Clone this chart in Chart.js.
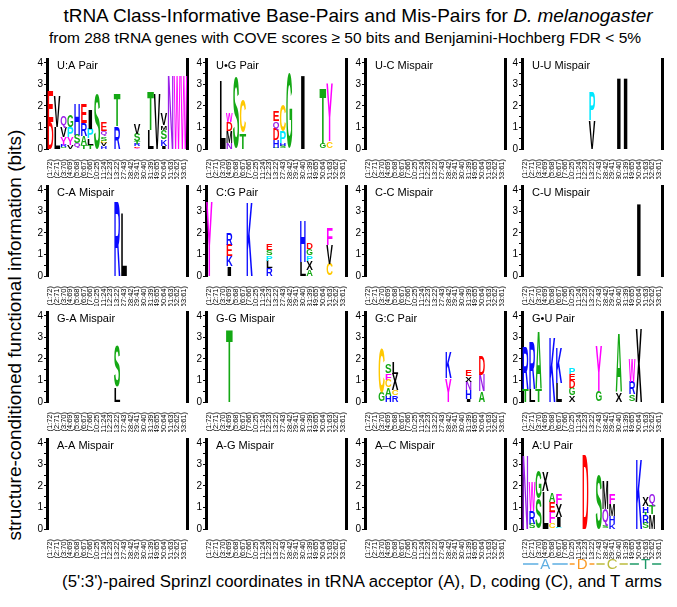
<!DOCTYPE html>
<html>
<head>
<meta charset="utf-8">
<script src="https://cdn.jsdelivr.net/npm/chart.js@4"></script>
<style>
  body { margin: 0; background: #fff; }
  #page { position: relative; width: 677px; height: 607px; overflow: hidden; background: #fff;
          font-family: "Liberation Sans", Arial, Helvetica, sans-serif; color: #000; }
  .txt { position: absolute; white-space: nowrap; }
  #title { left: 358px; top: 6px; font-size: 19px; line-height: 19px; transform: translateX(-50%); }
  #subtitle { left: 345px; top: 30px; font-size: 15.5px; line-height: 15.5px; transform: translateX(-50%); }
  #ytitle { left: 14px; top: 335px; font-size: 19px; line-height: 19px; transform: translate(-50%, -50%) rotate(-90deg); }
  #xtitle { left: 362px; top: 574px; font-size: 16.8px; line-height: 16.8px; transform: translateX(-50%); }
  canvas { position: absolute; }
</style>
</head>
<body>
<div id="page">
  <div class="txt" id="title">tRNA Class-Informative Base-Pairs and Mis-Pairs for <i>D. melanogaster</i></div>
  <div class="txt" id="subtitle">from 288 tRNA genes with COVE scores ≥ 50 bits and Benjamini-Hochberg FDR &lt; 5%</div>
  <div class="txt" id="ytitle">structure-conditioned functional information (bits)</div>
  <div class="txt" id="xtitle">(5':3')-paired Sprinzl coordinates in tRNA acceptor (A), D, coding (C), and T arms</div>
</div>
<script>
// paired Sprinzl positions (x categories)
const positions = ["(1:72)", "(2:71)", "(3:70)", "(4:69)", "(5:68)", "(6:67)", "(7:66)",
  "(10:25)", "(11:24)", "(12:23)", "(13:22)", "(27:43)", "(28:42)", "(29:41)", "(30:40)", "(31:39)",
  "(49:65)", "(50:64)", "(51:63)", "(52:62)", "(53:61)"];

const panelTitles = ["U:A Pair", "U•G Pair", "U-C Mispair", "U-U Mispair",
  "C-A Mispair", "C:G Pair", "C-C Mispair", "C-U Mispair",
  "G-A Mispair", "G-G Mispair", "G:C Pair", "G•U Pair",
  "A-A Mispair", "A-G Mispair", "A–C Mispair", "A:U Pair"];

const yTicks = [0, 0.5, 1, 1.5, 2, 2.5, 3, 3.5, 4];

// each position: letters stacked bottom -> top, [letter, bits]
const logoUA = [
  [["D", 1.25], ["E", 1.45]],
  [["L", 1.0], ["V", 1.4]],
  [["S", 0.08], ["R", 0.12], ["Y", 0.35], ["V", 0.45], ["Q", 0.55]],
  [["V", 0.2], ["Y", 0.35], ["P", 0.45], ["G", 0.55]],
  [["Q", 0.25], ["S", 0.4], ["H", 1.45]],
  [["T", 0.2], ["A", 0.4], ["R", 0.6], ["E", 0.9]],
  [["T", 0.2], ["L", 0.3], ["P", 0.45], ["I", 0.9]],
  [["S", 2.6]],
  [["H", 0.12], ["V", 0.15], ["C", 0.12], ["S", 0.2], ["Q", 0.25], ["E", 0.4]],
  [],
  [["R", 1.05], ["T", 1.5]],
  [], [],
  [["Y", 0.05], ["E", 0.07], ["R", 0.13], ["T", 0.1], ["S", 0.35], ["V", 0.45]],
  [],
  [["L", 0.9], ["T", 1.8]],
  [["V", 2.6]],
  [["I", 0.15], ["K", 0.3], ["S", 0.45], ["M", 0.2], ["V", 0.5]],
  [["N", 3.45]],
  [["W", 3.4]],
  [["W", 3.4]]
];
const logoUG = [
  [], [],
  [["L", 3.15]],
  [["N", 0.3], ["M", 0.55], ["D", 0.4], ["W", 0.42]],
  [["S", 3.35]],
  [["T", 0.75], ["C", 1.55]],
  [], [], [], [],
  [["S", 0.05], ["H", 0.35], ["D", 0.5], ["Q", 0.4], ["E", 0.45]],
  [["S", 0.15], ["H", 0.12], ["P", 0.55], ["C", 1.2]],
  [["G", 3.5]],
  [],
  [["I", 3.45]],
  [], [],
  [["G", 0.25], ["T", 2.6]],
  [["C", 0.35], ["Y", 2.65]],
  [], []
];
const logoUC = [];
const logoUU = [
  [], [], [], [], [], [], [], [], [], [],
  [["V", 1.35], ["P", 1.3]],
  [], [], [],
  [["I", 3.33]],
  [["I", 3.33]]
];
const logoCA = [
  [], [], [], [], [], [], [], [], [], [],
  [["R", 3.45]],
  [["L", 2.95]]
];
const logoCG = [
  [["Y", 3.45]],
  [], [],
  [["I", 0.45], ["K", 0.5], ["E", 0.5], ["R", 0.5]],
  [], [],
  [["K", 3.45]],
  [], [],
  [["R", 0.35], ["L", 0.35], ["P", 0.25], ["S", 0.25], ["E", 0.3]],
  [], [], [], [],
  [["L", 0.65], ["H", 1.95]],
  [["A", 0.3], ["X", 0.4], ["P", 0.25], ["G", 0.3], ["D", 0.32]],
  [], [],
  [["C", 0.55], ["V", 0.9], ["F", 0.8]]
];
const logoCC = [];
const logoCU = [
  [], [], [], [], [], [], [], [], [], [], [], [], [], [], [], [], [],
  [["I", 3.4]]
];
const logoGA = [
  [], [], [], [], [], [], [], [], [], [],
  [["L", 0.7], ["S", 1.9]]
];
const logoGG = [
  [], [], [],
  [["T", 3.4]]
];
const logoGC = [
  [], [],
  [["G", 0.45], ["C", 2.05]],
  [["H", 0.3], ["A", 0.37], ["C", 0.37], ["F", 0.3], ["S", 0.42]],
  [["R", 0.3], ["C", 0.25], ["X", 0.75], ["L", 0.55]],
  [], [], [], [], [], [], [],
  [["Y", 1.1], ["K", 1.2]],
  [], [],
  [["I", 0.15], ["H", 0.4], ["N", 0.4], ["X", 0.25], ["E", 0.3]],
  [],
  [["A", 0.5], ["N", 0.75], ["D", 0.9]]
];
const logoGU = [
  [["T", 0.6], ["R", 1.95]],
  [["L", 0.6], ["R", 2.2]],
  [["T", 0.65], ["A", 2.65]],
  [],
  [["K", 3.05]],
  [["L", 0.9], ["K", 1.65]],
  [],
  [["X", 0.3], ["G", 0.35], ["D", 0.35], ["E", 0.3], ["P", 0.32]],
  [], [], [],
  [["G", 0.5], ["Y", 2.1]],
  [], [],
  [["X", 0.45], ["A", 2.7]],
  [],
  [["S", 0.35], ["R", 0.6], ["W", 1.05]],
  [["X", 3.45]]
];
const logoAA = [];
const logoAG = [];
const logoAC = [];
const logoAU = [
  [["N", 3.45]],
  [["S", 0.25], ["R", 0.6], ["W", 1.35]],
  [["S", 1.4], ["G", 1.3]],
  [["L", 1.75], ["X", 0.9]],
  [["C", 0.25], ["F", 0.55], ["E", 0.45], ["A", 0.4]],
  [["P", 0.1], ["I", 0.45], ["X", 0.6], ["F", 0.5]],
  [], [], [],
  [["D", 3.45]],
  [],
  [["S", 2.55]],
  [["S", 0.15], ["Q", 0.8], ["M", 1.35]],
  [["K", 0.25], ["H", 0.35], ["M", 0.55], ["F", 0.5]],
  [], [], [],
  [["K", 3.3]],
  [["S", 0.3], ["R", 0.35], ["T", 0.1], ["H", 0.3], ["X", 0.4]],
  [["M", 0.7], ["T", 0.4], ["Q", 0.55]]
];

const logos = [logoUA, logoUG, logoUC, logoUU, logoCA, logoCG, logoCC, logoCU,
  logoGA, logoGG, logoGC, logoGU, logoAA, logoAG, logoAC, logoAU];

// tRNA arms under the last panel
const armNames = ["A", "D", "C", "T"];
const armFirst = [0, 7, 11, 16];
const armLast = [6, 10, 15, 20];
const armColors = ["#5eaee2", "#fb9a26", "#bcbc3e", "#1f9a68"];

const aaColors = {
  A: "#14a814", G: "#14a814", S: "#14a814", T: "#14a814",
  C: "#ffc800",
  D: "#ff0000", E: "#ff0000",
  F: "#ff00ff", W: "#ff00ff", Y: "#ff00ff",
  H: "#0a0aff", K: "#0a0aff", R: "#0a0aff",
  N: "#9a20e8", Q: "#9a20e8",
  P: "#00e8ff",
  I: "#000", L: "#000", M: "#000", V: "#000", X: "#000"
};

const FONT = '"Liberation Sans", Arial, Helvetica, sans-serif';
const GLYPH_FONT = 'bold 100px ' + FONT;
const colSpine = [47, 206, 365, 522];
const rowZero = [149, 276, 402, 529];

const glyphCache = {};
function glyphBox(ctx, ch) {
  if (!glyphCache[ch]) {
    ctx.save();
    ctx.font = GLYPH_FONT;
    const m = ctx.measureText(ch);
    glyphCache[ch] = { w: m.width, a: m.actualBoundingBoxAscent, d: m.actualBoundingBoxDescent };
    ctx.restore();
  }
  return glyphCache[ch];
}

// stretch one letter (advance width x ink height) to fill a bar rectangle
function drawLetter(ctx, ch, x, y, w, h) {
  const g = glyphBox(ctx, ch);
  ctx.save();
  ctx.translate(x, y);
  ctx.scale(w / g.w, h / (g.a + g.d));
  ctx.font = GLYPH_FONT;
  ctx.textAlign = "left";
  ctx.textBaseline = "alphabetic";
  ctx.fillStyle = aaColors[ch] || "#000";
  ctx.fillText(ch, 0, g.a);
  ctx.restore();
}

const letterPlugin = {
  id: "letters",
  afterDatasetsDraw(chart) {
    const ctx = chart.ctx;
    chart.data.datasets.forEach((ds, di) => {
      chart.getDatasetMeta(di).data.forEach((bar, i) => {
        const ch = ds.letters[i];
        if (!ch) return;
        const p = bar.getProps(["x", "y", "base", "width"], true);
        const h = Math.abs(p.base - p.y);
        if (h < 0.3) return;
        drawLetter(ctx, ch, p.x - p.width / 2, Math.min(p.y, p.base), p.width, h);
      });
    });
  }
};

const titlePlugin = {
  id: "panelTitle",
  afterDraw(chart, args, opts) {
    const ctx = chart.ctx;
    ctx.save();
    ctx.font = "11px " + FONT;
    ctx.fillStyle = "#000";
    ctx.textBaseline = "alphabetic";
    ctx.fillText(opts.text, chart.chartArea.left + 10, chart.chartArea.top + 9.5);
    ctx.restore();
  }
};

const armPlugin = {
  id: "arms",
  afterDraw(chart, args, opts) {
    if (!opts.show) return;
    const ctx = chart.ctx;
    const xs = chart.scales.x;
    const step = xs.getPixelForValue(1) - xs.getPixelForValue(0);
    const y = chart.chartArea.bottom + 35;
    ctx.save();
    ctx.font = "15px " + FONT;
    ctx.textAlign = "center";
    ctx.textBaseline = "middle";
    ctx.lineWidth = 1.5;
    armNames.forEach((name, k) => {
      const x0 = xs.getPixelForValue(armFirst[k]) - step / 2 + 1;
      const x1 = xs.getPixelForValue(armLast[k]) + step / 2 - 1;
      const xm = (x0 + x1) / 2;
      const hw = ctx.measureText(name).width / 2 + 2;
      ctx.strokeStyle = armColors[k];
      ctx.fillStyle = armColors[k];
      ctx.beginPath();
      ctx.moveTo(x0, y); ctx.lineTo(xm - hw, y);
      ctx.moveTo(xm + hw, y); ctx.lineTo(x1, y);
      ctx.stroke();
      ctx.fillText(name, xm, y + 1);
    });
    ctx.restore();
  }
};

function buildDatasets(logo) {
  const layers = Math.max(0, ...logo.map(s => s.length));
  const out = [];
  for (let k = 0; k < layers; k++) {
    out.push({
      data: positions.map((_, i) => (logo[i] && logo[i][k]) ? logo[i][k][1] : 0),
      letters: positions.map((_, i) => (logo[i] && logo[i][k]) ? logo[i][k][0] : null),
      backgroundColor: "rgba(0,0,0,0)",
      borderWidth: 0,
      categoryPercentage: 1,
      barPercentage: 1
    });
  }
  return out;
}

const page = document.getElementById("page");

logos.forEach((logo, idx) => {
  const row = Math.floor(idx / 4), col = idx % 4;
  const canvas = document.createElement("canvas");
  canvas.width = 168;
  canvas.height = 147;
  canvas.style.left = (colSpine[col] - 20) + "px";
  canvas.style.top = (rowZero[row] - 97) + "px";
  page.appendChild(canvas);

  new Chart(canvas, {
    type: "bar",
    data: { labels: positions, datasets: buildDatasets(logo) },
    options: {
      responsive: false,
      animation: false,
      events: [],
      layout: { padding: { top: 4, right: 3, bottom: 20, left: 0 } },
      plugins: {
        legend: { display: false },
        tooltip: { enabled: false },
        panelTitle: { text: panelTitles[idx] },
        arms: { show: idx === 15 }
      },
      scales: {
        x: {
          stacked: true,
          grid: { display: false },
          border: { display: false },
          ticks: { autoSkip: false, minRotation: 90, maxRotation: 90, padding: 2,
                   color: "#000", font: { size: 7.5, family: FONT } },
          afterFit: s => { s.height = 30; }
        },
        y: {
          stacked: true,
          position: "left",
          min: 0,
          max: 4.18,
          afterBuildTicks: s => { s.ticks = yTicks.map(v => ({ value: v })); },
          ticks: { autoSkip: false, padding: 1, color: "#000",
                   font: { size: 10, family: FONT },
                   callback: v => Number.isInteger(v) ? String(v) : "" },
          grid: { drawOnChartArea: false, drawTicks: true, tickLength: 3, color: "#000", lineWidth: 1 },
          border: { display: true, color: "#000", width: 3 },
          afterFit: s => { s.width = 20; }
        },
        y2: {
          type: "linear",
          position: "right",
          min: 0,
          max: 4.18,
          ticks: { display: false },
          grid: { drawOnChartArea: false, drawTicks: false },
          border: { display: true, color: "#000", width: 3 },
          afterFit: s => { s.width = 3; }
        }
      }
    },
    plugins: [letterPlugin, titlePlugin, armPlugin]
  });
});
</script>
</body>
</html>
